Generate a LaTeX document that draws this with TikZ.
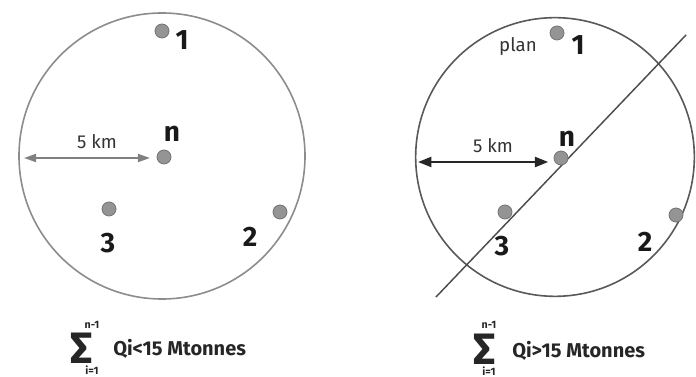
\documentclass[tikz,border=0pt]{standalone}
\usepackage{fontspec}
\setmainfont{Fira Sans}
\usetikzlibrary{arrows.meta}
\tikzset{
  site/.style={circle,fill=black!42,draw=black!55,line width=0.6pt,minimum size=10.5pt,inner sep=0pt},
  sitelabel/.style={font=\fontsize{21}{21}\selectfont\bfseries,text=black!90,inner sep=0pt},
  dimtext/.style={font=\fontsize{14}{14}\selectfont,text=black!80,inner sep=0pt},
  sigma/.style={font=\fontsize{33}{33}\selectfont\bfseries,text=black!85,inner sep=0pt,text depth=0pt,text height=23pt},
  limit/.style={font=\fontsize{8}{8}\selectfont\bfseries,text=black!85,inner sep=0pt},
  sumtext/.style={font=\fontsize{15}{15}\selectfont\bfseries,text=black!85,inner sep=0pt,anchor=west},
}
\begin{document}
\begin{tikzpicture}[x=0.75pt,y=-0.75pt]
  \useasboundingbox (0,0) rectangle (696,377);
  % left zone
  \draw[black!45,line width=1.2pt] (162,156) circle[radius=107.25pt];
  \node[site] (l1) at (162,31) {};
  \node[site] (ln) at (164,157) {};
  \node[site] (l3) at (109,209) {};
  \node[site] (l2) at (280,212) {};
  \node[sitelabel] (l1lab) at (182,40) {1};
  \node[sitelabel] (lnlab) at (172,134) {n};
  \node[sitelabel] (l3lab) at (108,243) {3};
  \node[sitelabel] (l2lab) at (250,237) {2};
  \coordinate (ledge) at (24,158);
  \draw[black!50,line width=1.4pt,{Triangle[length=9pt,width=6pt]}-{Triangle[length=9pt,width=6pt]},shorten >=5pt] (ledge) -- (ln.west |- ledge);
  \node[dimtext] (lkm) at (97,142) {5 km};
  % left sum
  \node[sigma,anchor=base] (lsig) at (82,364) {Σ};
  \node[limit] (ltop) at (92,325) {n-1};
  \node[limit] (lbot) at (92,370) {i=1};
  \node[sumtext] (lsum) at (113,349) {Qi<15 Mtonnes};
  % right zone
  \draw[black!65,line width=1.2pt] (555,157) circle[radius=104.5pt];
  \coordinate (planA) at (436,297);
  \coordinate (planB) at (686,35);
  \draw[black!70,line width=1.1pt] (planA) -- (planB);
  \node[site] (r1) at (557,33) {};
  \node[site] (rn) at (561,158) {};
  \node[site] (r3) at (505,212) {};
  \node[site] (r2) at (676,215) {};
  \node[dimtext] (rplan) at (518,46) {plan};
  \node[sitelabel] (r1lab) at (578,45) {1};
  \node[sitelabel] (rnlab) at (567,139) {n};
  \node[sitelabel] (r3lab) at (502,246) {3};
  \node[sitelabel] (r2lab) at (645,242) {2};
  \coordinate (redge) at (418,162);
  \draw[black!85,line width=1.5pt,{Triangle[length=10pt,width=7.5pt]}-{Triangle[length=10pt,width=7.5pt]},shorten >=4pt] (redge) -- (rn.west |- redge);
  \node[dimtext] (rkm) at (493,146) {5 km};
  % right sum
  \node[sigma,anchor=base] (rsig) at (485,365) {Σ};
  \node[limit] (rtop) at (489,325) {n-1};
  \node[limit] (rbot) at (489,371) {i=1};
  \node[sumtext] (rsum) at (512,351) {Qi>15 Mtonnes};
\end{tikzpicture}
\end{document}
